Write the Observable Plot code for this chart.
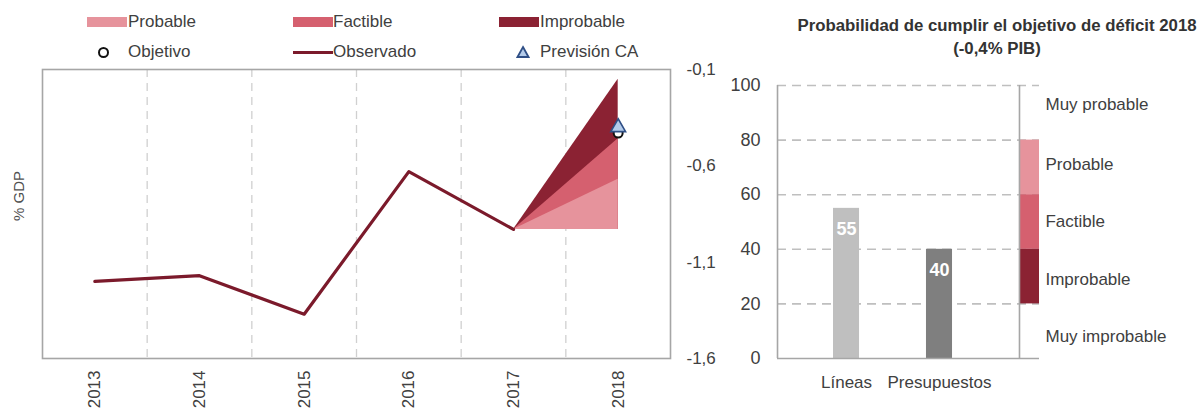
<!DOCTYPE html>
<html>
<head>
<meta charset="utf-8">
<script src="https://cdn.jsdelivr.net/npm/d3@7"></script>
<script src="https://cdn.jsdelivr.net/npm/@observablehq/plot@0.6"></script>
<style>
  html, body { margin: 0; padding: 0; background: #fff; }
  body { width: 1202px; height: 412px; position: relative; overflow: hidden; font-family: "Liberation Sans", Arial, sans-serif; color: #404040; }
  .abs { position: absolute; }
  .lg { position: absolute; font-size: 17px; line-height: 20px; color: #404040; white-space: nowrap; }
  .sw { position: absolute; width: 40px; height: 10px; }
  #title { position: absolute; left: 770px; width: 454px; top: 14px; text-align: center; font-weight: bold; font-size: 16.8px; line-height: 23px; color: #333; }
</style>
</head>
<body>
<div id="left" class="abs" style="left:0;top:0"></div>
<div id="right" class="abs" style="left:720px;top:0"></div>

<div class="sw" style="left:87px;top:17px;background:#e6939c"></div>
<div class="lg" style="left:128px;top:12px">Probable</div>
<div class="sw" style="left:293px;top:17px;background:#d5606f"></div>
<div class="lg" style="left:333px;top:12px">Factible</div>
<div class="sw" style="left:499px;top:17px;background:#8b2233"></div>
<div class="lg" style="left:540px;top:12px">Improbable</div>

<div class="abs" style="left:98px;top:47px;width:7px;height:7px;border:2px solid #111;border-radius:50%;background:#fff"></div>
<div class="lg" style="left:128px;top:42px">Objetivo</div>
<div class="abs" style="left:293px;top:51px;width:40px;height:3px;background:#7b1a2b"></div>
<div class="lg" style="left:333px;top:42px">Observado</div>
<svg class="abs" style="left:516px;top:45px" width="14" height="14"><polygon points="7,2 12.5,12 1.5,12" fill="#b3cbea" stroke="#2f4f86" stroke-width="1.8"/></svg>
<div class="lg" style="left:540px;top:42px">Previsión CA</div>

<div id="title">Probabilidad de cumplir el objetivo de déficit 2018<br>(-0,4% PIB)</div>

<script>
// ---- Left chart data ----
const years = [2013, 2014, 2015, 2016, 2017, 2018];
const observedYears = [2013, 2014, 2015, 2016, 2017];
const observedValues = [-1.20, -1.17, -1.37, -0.63, -0.93];
const fanYears = [2017, 2018];
const fanBase = [-0.93, -0.93];
const probableTop = [-0.93, -0.67];
const factibleTop = [-0.93, -0.46];
const improbableTop = [-0.93, -0.15];
const objetivoValue = -0.43;
const previsionValue = -0.40;
const yTicksLeft = [-0.1, -0.6, -1.1, -1.6];

// ---- Right chart data ----
const barCats = ["Líneas", "Presupuestos"];
const barValues = [55, 40];
const barColors = ["#bfbfbf", "#7f7f7f"];
const scaleCat = "escala";
const bandNames = ["Probable", "Factible", "Improbable"];
const bandLow = [60, 40, 20];
const bandHigh = [80, 60, 40];
const bandColors = ["#e6939c", "#d5606f", "#8b2233"];
const scaleLabels = ["Muy probable", "Probable", "Factible", "Improbable", "Muy improbable"];
const scaleLabelPos = [93, 71, 50, 29, 8];
const yTicksRight = [0, 20, 40, 60, 80, 100];

// ---- Build tables ----
const obs = observedYears.map((y, i) => ({year: y, value: observedValues[i]}));
const fan = fanYears.map((y, i) => ({year: y, base: fanBase[i], p: probableTop[i], f: factibleTop[i], im: improbableTop[i]}));
const gridX = years.slice(0, -1).map((y, i) => (y + years[i + 1]) / 2);
const lastYear = years[years.length - 1];

const left = Plot.plot({
  width: 720, height: 412,
  marginLeft: 42, marginRight: 50, marginTop: 69, marginBottom: 54,
  style: {fontFamily: "Liberation Sans, Arial, sans-serif", color: "#404040", background: "transparent"},
  x: {type: "linear", domain: [years[0] - 0.5, lastYear + 0.5]},
  y: {domain: [yTicksLeft[yTicksLeft.length - 1], yTicksLeft[0]]},
  marks: [
    Plot.ruleX(gridX, {stroke: "#d0d0d0", strokeWidth: 1.3, strokeDasharray: "8,6"}),
    Plot.areaY(fan, {x: "year", y1: "base", y2: "im", fill: "#8b2233"}),
    Plot.areaY(fan, {x: "year", y1: "base", y2: "f", fill: "#d5606f"}),
    Plot.areaY(fan, {x: "year", y1: "base", y2: "p", fill: "#e6939c"}),
    Plot.line(obs, {x: "year", y: "value", stroke: "#7b1a2b", strokeWidth: 3.2}),
    Plot.dot([{year: lastYear, v: objetivoValue}], {x: "year", y: "v", r: 4.5, stroke: "#111", strokeWidth: 2, fill: "#fff"}),
    Plot.dot([{year: lastYear, v: previsionValue}], {x: "year", y: "v", symbol: "triangle", r: 5.5, stroke: "#2f4f86", strokeWidth: 1.6, fill: "#b3cbea"}),
    Plot.frame({stroke: "#a6a6a6", strokeWidth: 1.6}),
    Plot.axisX(years, {tickRotate: -90, tickSize: 0, tickPadding: 12, fontSize: 17, tickFormat: d => String(d), label: null}),
    Plot.axisY(yTicksLeft, {anchor: "right", tickSize: 0, tickPadding: 16, fontSize: 17, tickFormat: d => d.toFixed(1).replace(".", ","), label: null}),
    Plot.text(["% GDP"], {frameAnchor: "left", rotate: -90, dx: -23, dy: 7, fontSize: 15, fill: "#505050"})
  ]
});
document.getElementById("left").appendChild(left);

const bars = barCats.map((c, i) => ({cat: c, value: barValues[i], color: barColors[i]}));
const bands = bandNames.map((n, i) => ({name: n, y1: bandLow[i], y2: bandHigh[i], color: bandColors[i]}));
const sLabels = scaleLabels.map((t, i) => ({t, y: scaleLabelPos[i]}));

const right = Plot.plot({
  width: 482, height: 412,
  marginLeft: 57, marginRight: 163, marginTop: 85, marginBottom: 54,
  style: {fontFamily: "Liberation Sans, Arial, sans-serif", color: "#404040", background: "transparent", overflow: "visible"},
  x: {type: "band", domain: [...barCats, scaleCat], range: [66.5, 371.5], paddingInner: 0.72, paddingOuter: 0.5, round: false},
  y: {domain: [0, 100]},
  marks: [
    Plot.gridY(yTicksRight.filter(d => d > 0), {stroke: "#bfbfbf", strokeOpacity: 1, strokeWidth: 1.6, strokeDasharray: "9,6"}),
    Plot.barY(bars, {x: "cat", y: "value", fill: "color"}),
    Plot.text(bars, {x: "cat", y: "value", text: d => String(d.value), dy: 21, fill: "#fff", fontWeight: "bold", fontSize: 18}),
    Plot.barY(bands, {x: () => scaleCat, y1: "y1", y2: "y2", fill: "color", insetRight: 6}),
    Plot.ruleX([scaleCat], {y1: 0, y2: 100, dx: -13, stroke: "#a6a6a6", strokeWidth: 1.6}),
    Plot.ruleX([barCats[0]], {y1: 0, y2: 100, dx: -69, stroke: "#a6a6a6", strokeWidth: 1.6}),
    Plot.ruleY([0], {stroke: "#a6a6a6", strokeWidth: 1.6}),
    Plot.text(sLabels, {x: () => scaleCat, y: "y", text: "t", textAnchor: "start", dx: 13, fontSize: 17, fill: "#404040"}),
    Plot.axisY(yTicksRight, {tickSize: 0, tickPadding: 17, fontSize: 18, label: null}),
    Plot.axisX(barCats, {tickSize: 0, tickPadding: 17, fontSize: 17, label: null})
  ]
});
document.getElementById("right").appendChild(right);
</script>
</body>
</html>
